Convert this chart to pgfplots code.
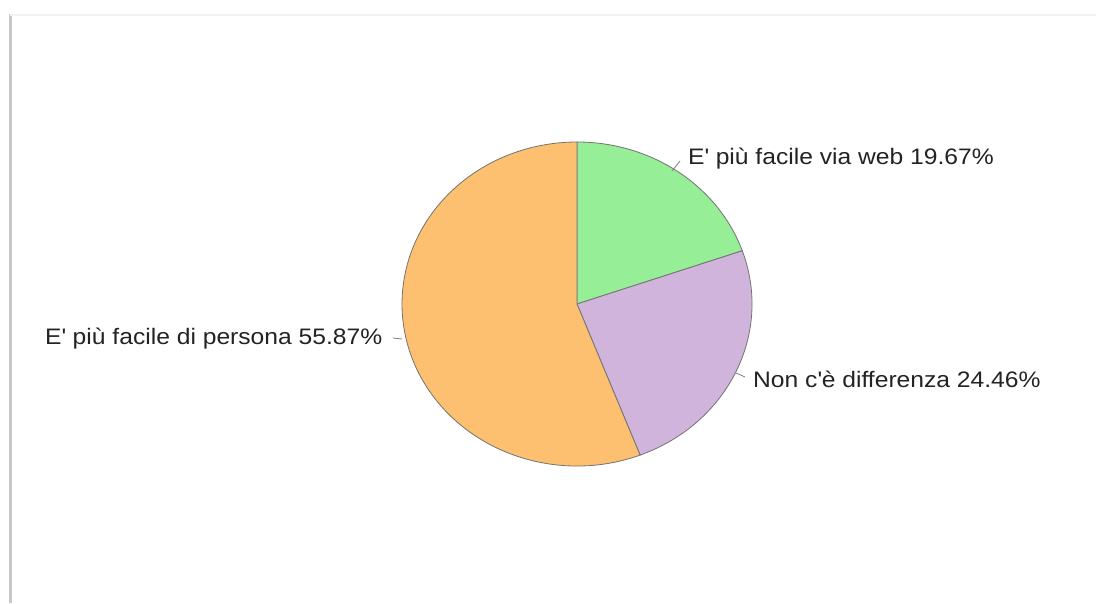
\documentclass[border=0pt]{standalone}
\usepackage{pgfplots}
\usepackage{pgfplotstable}
\pgfplotsset{compat=1.18}
\usepackage{fontspec}
\setmainfont[FakeStretch=1.1]{Liberation Sans}
\definecolor{cweb}{RGB}{150,238,150}
\definecolor{cdiff}{RGB}{208,180,219}
\definecolor{cpers}{RGB}{253,192,112}
\definecolor{ctext}{RGB}{35,35,35}
\pgfplotstableread{
key pct
web 19.67
diff 24.46
pers 55.87
}\piedata
\begin{document}
\begin{tikzpicture}[x=1pt,y=1pt]
\pgfplotstablegetelem{0}{pct}\of\piedata \let\pa\pgfplotsretval
\pgfplotstablegetelem{1}{pct}\of\piedata \let\pb\pgfplotsretval
\pgfplotstablegetelem{2}{pct}\of\piedata \let\pc\pgfplotsretval
\pgfmathsetmacro\aA{90-3.6*\pa}
\pgfmathsetmacro\aB{\aA-3.6*\pb}
\pgfmathsetmacro\aC{\aB-3.6*\pc}
\useasboundingbox (0,0) rectangle (1096,603);
\begin{axis}[
  at={(0,0)}, anchor=origin,
  width=1096pt, height=603pt, scale only axis,
  xmin=0, xmax=1096, ymin=0, ymax=603,
  hide axis, clip=false]
  % frame lines
  \draw[color={rgb,255:red,200;green,200;blue,200}, line width=3pt] (axis cs:10,0) -- (axis cs:10,589);
  \draw[color={rgb,255:red,242;green,242;blue,242}, line width=2pt] (axis cs:10,588) -- (axis cs:1096,588);
  % wedges
  \filldraw[fill=cweb, draw=gray!90!black, line width=0.8pt]
    (axis cs:577,299) -- ++(90:175pt and 162pt)
    arc[start angle=90, end angle=\aA, x radius=175pt, y radius=162pt] -- cycle;
  \filldraw[fill=cdiff, draw=gray!90!black, line width=0.8pt]
    (axis cs:577,299) -- ++(\aA:175pt and 162pt)
    arc[start angle=\aA, end angle=\aB, x radius=175pt, y radius=162pt] -- cycle;
  \filldraw[fill=cpers, draw=gray!90!black, line width=0.8pt]
    (axis cs:577,299) -- ++(\aB:175pt and 162pt)
    arc[start angle=\aB, end angle=\aC, x radius=175pt, y radius=162pt] -- cycle;
  % leader lines
  \draw[gray, line width=0.8pt] (axis cs:672,432) -- (axis cs:680,442);
  \draw[gray, line width=0.8pt] (axis cs:736,230) -- (axis cs:745,226);
  \draw[gray, line width=0.8pt] (axis cs:393,265) -- (axis cs:402,264);
  % labels
  \node[anchor=base west, inner sep=0pt, text=ctext, font=\fontsize{22.4}{26}\selectfont] at (axis cs:688,438) {E\textquotesingle\ più facile via web 19.67\%};
  \node[anchor=base west, inner sep=0pt, text=ctext, font=\fontsize{22.4}{26}\selectfont] at (axis cs:753,215) {Non c\textquotesingle è differenza 24.46\%};
  \node[anchor=base west, inner sep=0pt, text=ctext, font=\fontsize{22.4}{26}\selectfont] at (axis cs:45,258) {E\textquotesingle\ più facile di persona 55.87\%};
\end{axis}
\end{tikzpicture}
\end{document}
